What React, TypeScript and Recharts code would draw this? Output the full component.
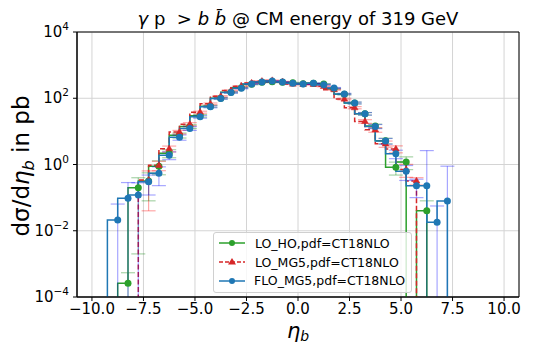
import { LineChart, Line, XAxis, YAxis, CartesianGrid, ErrorBar, ReferenceArea, Legend } from "recharts";

document.body.style.margin = "0";

const etaBins = [
  -9.75, -9.25, -8.75, -8.25, -7.75, -7.25, -6.75, -6.25, -5.75, -5.25,
  -4.75, -4.25, -3.75, -3.25, -2.75, -2.25, -1.75, -1.25, -0.75, -0.25,
  0.25, 0.75, 1.25, 1.75, 2.25, 2.75, 3.25, 3.75, 4.25, 4.75,
  5.25, 5.75, 6.25, 6.75, 7.25, 7.75, 8.25, 8.75, 9.25, 9.75,
];

// LO_HO (green)
const loHo = [
  0, 0, 0, 0.00026, 0.2, 0.32, 0.89, 2.2, 7.6, 14,
  29.5, 57, 100, 151, 209, 263, 302, 316, 302, 295,
  275, 282, 269, 195, 132, 72, 34, 14.5, 5.2, 0.83,
  1.2, 0, 0.04, 0, 0, 0, 0, 0, 0, 0,
];
const loHoErr = [
  0, 0, 0, 0.00028, 0.198, 0.24, 0.4, 0.6, 1.3, 1.8,
  2.6, 3.6, 5, 6, 7, 8, 8, 9, 8, 8,
  8, 8, 8, 7, 6, 4.5, 3, 2, 1, 0.35,
  0.5, 0, 0.04, 0, 0, 0, 0, 0, 0, 0,
];

// LO_MG5 (red, dashed)
const loMg5 = [
  0, 0, 0, 0, 0, 0.34, 0.95, 3.0, 9.5, 16.5,
  38, 68, 115, 172, 230, 290, 328, 345, 316, 269,
  263, 263, 229, 182, 95, 52, 20, 11.2, 4.2, 2.95,
  0.71, 0.32, 0, 0, 0, 0, 0, 0, 0, 0,
];
const loMg5Err = [
  0, 0, 0, 0, 0, 0.3, 0.3, 0.6, 1.2, 1.8,
  2.6, 4, 5, 6, 7, 8, 9, 9, 8, 8,
  8, 8, 7, 7, 5, 4, 2.5, 1.8, 0.9, 0.7,
  0.3, 0.08, 0, 0, 0, 0, 0, 0, 0, 0,
];

// FLO_MG5 (blue)
const floMg5 = [
  0, 0, 0.021, 0.095, 0.12, 0.3, 0.54, 1.9, 6.6, 12.3,
  27.5, 55, 98, 148, 200, 269, 309, 331, 309, 282,
  269, 282, 257, 204, 135, 72, 34, 14.1, 5.1, 2.1,
  0.63, 0.23, 0.23, 0.018, 0.079, 0, 0, 0, 0, 0,
];
const floMg5Err = [
  0, 0, 0.043, 0.19, 0.16, 0.18, 0.31, 0.5, 1.2, 1.6,
  2.5, 3.5, 5, 6, 7, 8, 8, 9, 8, 8,
  8, 8, 8, 7, 6, 4.5, 3, 2, 1, 0.6,
  0.3, 0.13, 2.4, 0.038, 0.81, 0, 0, 0, 0, 0,
];

const xTicks = [-10, -7.5, -5, -2.5, 0, 2.5, 5, 7.5, 10];
const yTicks = [1e-4, 1e-2, 1, 1e2, 1e4];

const GREEN = "#2ca02c";
const RED = "#d62728";
const BLUE = "#1f77b4";
const FONT = "DejaVu Sans";

// empty bins sit far below the log axis so the steps drop to the floor
const FLOOR = 1e-30;
const errRange = (v: number, e: number) => (v > 0 ? [Math.min(e, v * (1 - 1e-9)), e] : [0, 0]);

const data = etaBins.map((eta, i) => ({
  eta,
  ho: loHo[i] || FLOOR,
  hoErr: errRange(loHo[i], loHoErr[i]),
  mg5: loMg5[i] || FLOOR,
  mg5Err: errRange(loMg5[i], loMg5Err[i]),
  flo: floMg5[i] || FLOOR,
  floErr: errRange(floMg5[i], floMg5Err[i]),
}));

const fmtX = (v: number) => v.toFixed(1).replace("-", "\u2212");

const XTick = ({ x, y, payload }: any) => (
  <text x={x} y={y + 11} textAnchor="middle" fontSize={15} fontFamily={FONT} fill="#000">
    {fmtX(payload.value)}
  </text>
);

const YTick = ({ x, y, payload }: any) => {
  const exp = Math.round(Math.log10(payload.value));
  return (
    <text x={x - 2} y={y + 5} textAnchor="end" fontSize={15} fontFamily={FONT} fill="#000">
      10
      <tspan dy={-7} fontSize={10.5}>
        {String(exp).replace("-", "\u2212")}
      </tspan>
    </text>
  );
};

const Triangle = (props: any) => {
  const { cx, cy, index } = props;
  if (cx == null || cy == null || !isFinite(cy) || cy > 400) return <g key={index} />;
  const r = 3.6;
  return (
    <path
      key={index}
      d={`M${cx},${cy - r} L${cx + r * 0.95},${cy + r * 0.6} L${cx - r * 0.95},${cy + r * 0.6} Z`}
      fill={RED}
      stroke={RED}
      strokeWidth={0.5}
    />
  );
};

const legendRows = [
  { label: "LO_HO,pdf=CT18NLO", color: GREEN, dash: "", tri: false },
  { label: "LO_MG5,pdf=CT18NLO", color: RED, dash: "4 2", tri: true },
  { label: "FLO_MG5,pdf=CT18NLO", color: BLUE, dash: "", tri: false },
];

const LegendBox = () => (
  <div
    style={{
      background: "rgba(255,255,255,0.8)",
      border: "1px solid #d0d0d0",
      borderRadius: 3,
      padding: "1px 6px 2px 4px",
      fontFamily: FONT,
      fontSize: 12.5,
      width: 187,
    }}
  >
    {legendRows.map((r) => (
      <div key={r.label} style={{ display: "flex", alignItems: "center", height: 18.8 }}>
        <svg width={30} height={12} style={{ marginRight: 7 }}>
          <line x1={1} y1={6} x2={27} y2={6} stroke={r.color} strokeWidth={1.5} strokeDasharray={r.dash} />
          {r.tri ? (
            <path d="M14,2 L18,8.5 L10,8.5 Z" fill={r.color} />
          ) : (
            <circle cx={14} cy={6} r={3} fill={r.color} />
          )}
        </svg>
        <span>{r.label}</span>
      </div>
    ))}
  </div>
);

const CLIP = "url(#plot-clip)";

export default function App() {
  return (
    <div style={{ position: "relative", width: 544, height: 345, background: "#fff" }}>
      <svg width={0} height={0} style={{ position: "absolute" }}>
        <defs>
          <clipPath id="plot-clip" clipPathUnits="userSpaceOnUse">
            <rect x={77} y={32} width={442} height={265} />
          </clipPath>
        </defs>
      </svg>
      <LineChart width={544} height={345} data={data} margin={{ top: 32, right: 25, bottom: 0, left: 0 }}>
        <CartesianGrid stroke="#d4d4d4" strokeWidth={1} />
        <XAxis
          dataKey="eta"
          type="number"
          domain={[-10.725, 10.725]}
          ticks={xTicks}
          tick={<XTick />}
          tickSize={4}
          height={48}
          stroke="#000"
          allowDataOverflow
        />
        <YAxis
          scale="log"
          domain={[1e-4, 1e4]}
          ticks={yTicks}
          tick={<YTick />}
          tickSize={4}
          width={77}
          stroke="#000"
          allowDataOverflow
        />
        <Line
          dataKey="ho"
          type="stepBefore"
          stroke={GREEN}
          strokeWidth={1.5}
          dot={{ r: 3.5, fill: GREEN, stroke: GREEN, strokeWidth: 0 }}
          isAnimationActive={false}
        >
          <ErrorBar
            dataKey="hoErr"
            direction="y"
            width={7}
            stroke="rgba(0,128,0,0.35)"
            strokeWidth={1.2}
            clipPath={CLIP}
          />
        </Line>
        <Line
          dataKey="mg5"
          type="stepBefore"
          stroke={RED}
          strokeWidth={1.5}
          strokeDasharray="5 2.5"
          dot={<Triangle />}
          isAnimationActive={false}
        >
          <ErrorBar
            dataKey="mg5Err"
            direction="y"
            width={7}
            stroke="rgba(255,0,0,0.35)"
            strokeWidth={1.2}
            strokeDasharray="none"
            clipPath={CLIP}
          />
        </Line>
        <Line
          dataKey="flo"
          type="stepBefore"
          stroke={BLUE}
          strokeWidth={1.5}
          dot={{ r: 3.5, fill: BLUE, stroke: BLUE, strokeWidth: 0 }}
          isAnimationActive={false}
        >
          <ErrorBar
            dataKey="floErr"
            direction="y"
            width={7}
            stroke="rgba(0,0,255,0.35)"
            strokeWidth={1.2}
            clipPath={CLIP}
          />
        </Line>
        <ReferenceArea
          x1={-10.725}
          x2={10.725}
          y1={1e-4}
          y2={1e4}
          fill="none"
          stroke="#000"
          strokeWidth={1}
          ifOverflow="visible"
        />
        <Legend
          layout="vertical"
          align="center"
          verticalAlign="middle"
          content={() => <LegendBox />}
          wrapperStyle={{ left: 213, top: 232, width: 199 }}
        />
      </LineChart>
      <svg
        width={544}
        height={345}
        style={{ position: "absolute", left: 0, top: 0, pointerEvents: "none" }}
      >
        <text x={298} y={25} textAnchor="middle" fontSize={18} fontFamily={FONT} fill="#000">
          <tspan fontStyle="italic">γ</tspan> p {"\u00a0"}&gt; <tspan fontStyle="italic">b</tspan>{" "}
          <tspan fontStyle="italic">b̄</tspan> @ CM energy of 319 GeV
        </text>
        <text
          transform="translate(29,166) rotate(-90)"
          textAnchor="middle"
          fontSize={23}
          fontFamily={FONT}
          fill="#000"
        >
          dσ/d<tspan fontStyle="italic">η</tspan>
          <tspan dy={5} fontSize={16} fontStyle="italic">b</tspan>
          <tspan dy={-5}> in pb</tspan>
        </text>
        <text x={298} y={338} textAnchor="middle" fontSize={21} fontFamily={FONT} fill="#000">
          <tspan fontStyle="italic">η</tspan>
          <tspan dy={3} fontSize={14} fontStyle="italic">b</tspan>
        </text>
      </svg>
    </div>
  );
}
